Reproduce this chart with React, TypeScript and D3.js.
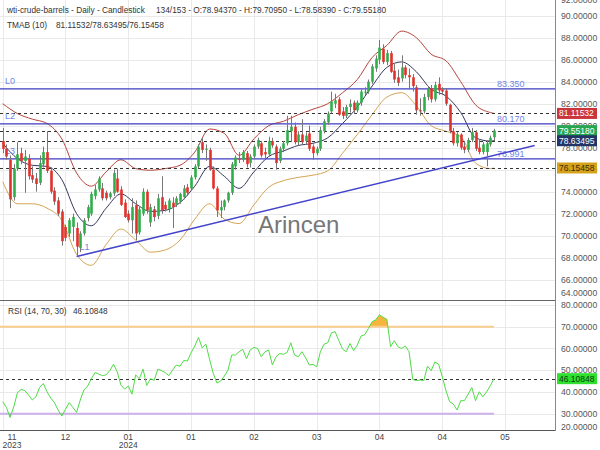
import React, { useEffect, useRef } from "react";
import * as d3 from "d3";

// daily candles, oldest first (134 shown of 153)
const opens = [
  78.6, 77.9, 76.9, 73.5, 76.1, 77.5, 76.8, 77.0, 75.5, 75.2,
  74.8, 76.5, 77.6, 75.9, 74.1, 73.2, 72.2, 70.8, 70.2, 70.8,
  70.7, 68.9, 70.2, 71.6, 72.0, 73.6, 74.2, 74.3, 73.9, 73.5,
  73.85, 75.2, 74.2, 73.0, 72.0, 71.4, 72.8, 70.3, 72.0, 74.0,
  71.2, 72.4, 71.8, 73.5, 72.8, 72.4, 73.0, 72.8, 73.1, 73.5,
  74.4, 74.3, 75.3, 76.3, 78.5, 77.8, 77.8, 76.0, 74.3, 72.3,
  72.6, 73.2, 73.9, 76.3, 77.0, 76.9, 77.5, 76.6, 77.2, 78.1,
  78.4, 77.6, 77.4, 78.6, 78.1, 76.8, 77.9, 78.4, 79.5, 79.9,
  78.5, 79.2, 78.6, 79.3, 78.1, 77.5, 77.9, 79.5, 80.3, 81.3,
  82.0, 82.4, 81.3, 80.9, 81.7, 82.1, 81.4, 82.1, 83.0, 83.1,
  84.0, 85.2, 86.0, 87.0, 85.8, 86.6, 85.0, 84.4, 84.3, 85.3,
  84.6, 84.4, 83.5, 81.4, 81.3, 82.6, 83.4, 82.4, 83.8, 83.3,
  83.2, 81.9, 79.5, 78.4, 79.2, 78.1, 77.8, 78.7, 79.4, 78.0,
  77.6, 77.6, 78.3, 78.9437,
];
const highs = [
  79.8, 78.3, 77.3, 76.5, 78.5, 78.0, 77.8, 77.4, 76.3, 75.7,
  77.3, 78.1, 79.5, 76.2, 74.4, 73.5, 72.4, 71.0, 71.6, 72.0,
  71.2, 70.4, 71.6, 72.8, 74.0, 74.6, 75.4, 74.8, 74.1, 74.0,
  76.0, 76.1, 74.5, 73.3, 72.3, 73.4, 73.2, 72.6, 74.3, 74.2,
  72.9, 72.7, 73.8, 75.4, 73.1, 73.4, 73.5, 73.6, 73.9, 74.6,
  74.7, 75.5, 76.5, 78.3, 78.9, 78.3, 78.0, 76.3, 74.5, 73.2,
  73.3, 74.0, 76.7, 77.3, 77.6, 77.8, 77.7, 77.4, 78.3, 78.9,
  78.6, 78.0, 79.0, 78.9, 78.3, 78.1, 78.6, 80.9, 80.9, 80.3,
  79.5, 80.6, 79.4, 80.0, 78.3, 78.1, 79.9, 80.6, 81.3, 83.1,
  82.9, 82.6, 81.7, 81.9, 82.4, 82.3, 82.3, 83.3, 83.5, 84.2,
  85.6, 86.4, 87.8, 87.4, 86.9, 86.8, 85.6, 85.1, 86.4, 85.5,
  85.2, 84.7, 83.7, 82.5, 82.9, 83.6, 83.7, 84.0, 84.4, 83.5,
  83.4, 82.0, 79.8, 79.4, 79.3, 78.6, 78.9, 79.8, 79.6, 78.7,
  78.5, 78.6, 79.1, 79.7095,
];
const lows = [
  77.5, 76.9, 72.5, 73.2, 75.9, 76.5, 73.9, 75.1, 74.8, 74.0,
  74.6, 76.2, 75.7, 73.8, 72.8, 71.8, 69.1, 69.5, 69.9, 69.5,
  68.1, 68.5, 70.0, 71.3, 71.8, 73.3, 74.0, 73.2, 73.2, 73.3,
  73.6, 73.9, 72.7, 71.6, 71.2, 70.2, 69.6, 70.1, 71.8, 72.0,
  70.8, 71.3, 71.5, 72.0, 72.2, 72.1, 70.7, 72.6, 72.9, 73.3,
  73.6, 74.1, 75.1, 76.1, 77.5, 76.8, 75.9, 74.2, 71.7, 71.6,
  72.3, 73.0, 73.7, 76.0, 76.6, 76.7, 76.2, 76.2, 77.0, 77.9,
  77.1, 77.0, 77.2, 78.0, 76.0, 76.6, 77.6, 78.2, 78.5, 78.3,
  78.2, 78.3, 78.3, 77.7, 76.9, 77.3, 77.7, 79.3, 80.1, 81.1,
  81.6, 80.9, 80.6, 80.7, 81.2, 81.1, 81.2, 81.8, 82.8, 82.9,
  83.8, 84.9, 85.6, 85.6, 85.5, 84.8, 83.9, 83.6, 84.0, 84.3,
  83.3, 83.1, 81.0, 80.9, 81.1, 82.3, 82.1, 82.2, 82.8, 82.8,
  81.8, 79.3, 78.2, 78.1, 77.8, 77.5, 77.6, 78.5, 77.7, 77.4,
  77.4, 76.3, 78.1, 78.5839,
];
const closes = [
  77.9, 77.2, 73.3, 76.1, 77.4, 76.8, 77.2, 75.4, 75.1, 74.7,
  76.6, 77.6, 75.9, 74.0, 73.1, 72.0, 69.5, 69.8, 71.4, 71.7,
  69.0, 70.2, 71.4, 72.6, 73.8, 74.2, 75.2, 73.4, 73.4, 73.85,
  75.7, 74.0, 72.8, 71.7, 71.4, 72.6, 70.2, 72.4, 74.0, 72.3,
  72.6, 71.7, 73.4, 72.3, 72.4, 73.2, 72.6, 73.4, 73.8, 74.3,
  73.9, 75.3, 76.3, 78.1, 77.8, 77.9, 76.0, 74.3, 72.3, 72.6,
  73.2, 73.9, 76.5, 77.1, 76.9, 77.6, 76.5, 77.2, 78.1, 78.7,
  77.3, 77.4, 78.6, 78.2, 76.6, 77.9, 78.4, 79.6, 79.9, 78.5,
  79.2, 78.5, 79.1, 77.9, 77.5, 77.9, 79.6, 80.4, 81.1, 82.2,
  82.3, 81.0, 80.9, 81.7, 82.0, 81.4, 82.1, 83.1, 83.1, 84.0,
  85.4, 86.1, 87.1, 85.8, 86.6, 84.9, 84.2, 83.9, 85.3, 84.6,
  84.4, 83.6, 81.4, 81.3, 82.6, 83.4, 82.4, 83.7, 83.2, 83.1,
  82.0, 79.5, 78.4, 79.2, 78.0, 77.8, 78.7, 79.4, 77.9, 77.6,
  78.3, 78.4, 78.9, 79.5518,
];

// TMAB (10) bands, read every 4th bar
const bandIdx = [
  0, 4, 8, 12, 16, 20, 24, 28, 32, 36, 40, 44, 48, 52, 56, 60, 64, 68,
  72, 76, 80, 84, 88, 92, 96, 100, 104, 108, 112, 116, 120, 124, 128, 132, 133,
];
const upperBand = [
  82.0, 81.1, 80.6, 80.2, 78.8, 75.7, 74.5, 75.8, 76.9, 76.1, 75.95, 76.1,
  76.4, 77.6, 79.7, 79.3, 77.3, 78.8, 80.0, 80.4, 81.0, 81.5, 82.0, 83.0,
  84.2, 86.2, 87.3, 88.6, 88.0, 86.5, 85.9, 84.0, 81.9, 81.2, 81.11532,
];
const middleBand = [
  78.4, 77.0, 76.4, 76.3, 75.1, 72.0, 70.9, 72.5, 73.8, 72.9, 72.2, 72.3,
  73.0, 74.5, 76.3, 75.4, 74.3, 75.8, 77.2, 77.7, 78.2, 78.4, 78.9, 80.2,
  81.7, 83.6, 85.3, 85.8, 84.9, 83.3, 82.7, 81.2, 78.9, 78.6, 78.63495,
];
const lowerBand = [
  74.9, 72.9, 72.9, 72.5, 71.4, 68.3, 67.3, 69.2, 70.6, 69.6, 68.5, 68.7,
  69.6, 71.5, 72.9, 71.5, 71.1, 72.8, 74.4, 75.0, 75.3, 75.5, 75.9, 77.5,
  79.2, 81.0, 82.6, 83.0, 81.8, 80.0, 79.5, 79.0, 76.6, 76.1, 76.15458,
];

// RSI (14)
const rsi = [
  35.5, 32.9, 28.3, 33.2, 39.7, 41.2, 40.6, 38.6, 36.3, 37.8,
  42.1, 43.9, 40.1, 37.2, 35.1, 31.7, 28.9, 32.0, 35.1, 32.9,
  30.6, 36.3, 40.9, 42.7, 46.1, 48.9, 48.2, 47.5, 47.9, 49.8,
  52.8, 49.3, 43.2, 41.3, 42.7, 39.0, 47.8, 46.1, 50.5, 43.0,
  46.1, 45.3, 50.5, 49.8, 48.9, 47.5, 50.1, 52.4, 51.8, 54.5,
  54.2, 58.0, 61.1, 65.1, 60.3, 62.0, 55.0, 48.5, 44.1, 45.0,
  47.3, 50.1, 57.0, 57.0, 58.5, 59.6, 55.3, 59.3, 60.5, 60.0,
  56.2, 58.5, 59.3, 52.4, 56.2, 57.7, 57.3, 58.2, 62.6, 57.0,
  56.2, 58.5, 55.7, 52.4, 52.7, 51.6, 58.5, 62.0, 62.6, 67.2,
  67.7, 63.6, 59.7, 58.5, 62.3, 59.0, 61.6, 65.7, 66.3, 69.2,
  72.3, 73.2, 75.5, 74.3, 73.4, 60.8, 63.6, 60.8, 60.0, 61.1,
  58.5, 45.8, 45.2, 45.5, 45.2, 51.9, 49.8, 53.8, 52.8, 47.0,
  40.6, 35.5, 34.4, 31.7, 36.0, 36.0, 39.0, 42.0, 36.0, 40.1,
  37.8, 40.0, 42.9, 46.10848,
];

// drawn levels
const levelNames = ["L0", "L2", "L3"];
const levelValues = [83.35, 80.17, 76.991];
const trendIdx = [20, 144];
const trendValues = [68.1, 78.2];

// last values of the bands / close
const markerValues = [81.11532, 79.5518, 78.63495, 76.15458];
const markerLabels = ["81.11532", "79.55180", "78.63495", "76.15458"];

const priceTicks = [64, 66, 68, 70, 72, 74, 76, 78, 80, 82, 84, 86, 88, 90, 92];
const rsiTicks = [20, 30, 40, 50, 60, 70, 80];
const monthLabels = ["11", "12", "01", "01", "02", "03", "04", "04", "05"];
const yearLabels = ["2023", "", "2024", "", "", "", "", "", ""];
const barsPerTick = 17;

const W = 600;
const H = 450;
const plotRight = 555;
const priceBottom = 300;
const rsiTop = 300;
const rsiBottom = 430;
const FONT = "'Liberation Sans', Arial, sans-serif";

const App = () => {
  const svgRef = useRef<SVGSVGElement>(null);

  useEffect(() => {
    const svg = d3.select(svgRef.current);
    svg.selectAll("*").remove();

    const x = d3.scaleLinear().domain([0, closes.length - 1]).range([2.7, 494]);
    const y = d3.scaleLinear().domain([64.15, 91.43]).range([priceBottom, 0]);
    const yR = d3.scaleLinear().domain([22.5, 82.3]).range([rsiBottom, rsiTop]);
    const crisp = (v: number) => Math.round(v) + 0.5;

    svg.append("rect").attr("width", W).attr("height", H).attr("fill", "#fff");

    const defs = svg.append("defs");
    defs.append("clipPath").attr("id", "clipPrice")
      .append("rect").attr("x", 0).attr("y", 0).attr("width", plotRight).attr("height", priceBottom);
    defs.append("clipPath").attr("id", "clipOver")
      .append("rect").attr("x", 0).attr("y", rsiTop).attr("width", plotRight).attr("height", yR(70) - rsiTop);
    defs.append("clipPath").attr("id", "clipUnder")
      .append("rect").attr("x", 0).attr("y", yR(30)).attr("width", plotRight).attr("height", rsiBottom - yR(30));

    // grid
    const grid = svg.append("g").attr("stroke", "#e9e9e9").attr("stroke-width", 1);
    priceTicks.forEach((t) => {
      const yy = y(t);
      if (yy > 0 && yy < priceBottom)
        grid.append("line").attr("x1", 0).attr("x2", plotRight).attr("y1", crisp(yy)).attr("y2", crisp(yy));
    });
    rsiTicks.forEach((t) => {
      const yy = yR(t);
      if (yy > rsiTop && yy < rsiBottom)
        grid.append("line").attr("x1", 0).attr("x2", plotRight).attr("y1", crisp(yy)).attr("y2", crisp(yy));
    });
    monthLabels.forEach((_, k) => {
      const xx = x(k * barsPerTick);
      if (xx < plotRight)
        grid.append("line").attr("x1", crisp(xx)).attr("x2", crisp(xx)).attr("y1", 0).attr("y2", rsiBottom);
    });

    // watermark
    svg.append("text").attr("x", 258).attr("y", 233).attr("font-family", FONT)
      .attr("font-size", 24).attr("fill", "#777").text("Arincen");

    const price = svg.append("g").attr("clip-path", "url(#clipPrice)");

    // bands
    const band = d3.line<number>()
      .x((_, k) => x(bandIdx[k]))
      .y((d) => y(d))
      .curve(d3.curveMonotoneX);
    price.append("path").attr("d", band(upperBand)).attr("fill", "none").attr("stroke", "#b5443c").attr("stroke-width", 1);
    price.append("path").attr("d", band(lowerBand)).attr("fill", "none").attr("stroke", "#d4a453").attr("stroke-width", 1);
    price.append("path").attr("d", band(middleBand)).attr("fill", "none").attr("stroke", "#33395e").attr("stroke-width", 1);

    // marker dashed lines
    markerValues.forEach((v) => {
      price.append("line").attr("x1", 0).attr("x2", plotRight)
        .attr("y1", crisp(y(v))).attr("y2", crisp(y(v)))
        .attr("stroke", "#333").attr("stroke-dasharray", "3,3").attr("stroke-width", 1);
    });

    // levels
    levelValues.forEach((v, k) => {
      const yy = y(v);
      price.append("line").attr("x1", 0).attr("x2", plotRight).attr("y1", yy).attr("y2", yy)
        .attr("stroke", "#3b3bc4").attr("stroke-width", 1.3);
      price.append("text").attr("x", 5).attr("y", yy - 5).attr("font-family", FONT)
        .attr("font-size", 9).attr("fill", "#6f86e6").text(levelNames[k]);
      price.append("text").attr("x", 497).attr("y", yy - 2).attr("font-family", FONT)
        .attr("font-size", 9).attr("fill", "#6f86e6").text(v.toFixed(3));
    });

    // trendline
    price.append("line")
      .attr("x1", x(trendIdx[0])).attr("y1", y(trendValues[0]))
      .attr("x2", x(trendIdx[1])).attr("y2", y(trendValues[1]))
      .attr("stroke", "#4343cc").attr("stroke-width", 1.5);
    price.append("text").attr("x", x(trendIdx[0]) + 3).attr("y", y(trendValues[0]) - 7)
      .attr("font-family", FONT).attr("font-size", 9).attr("fill", "#6f86e6").text("L1");

    // candles
    const bw = 2.6;
    closes.forEach((c, i) => {
      const o = opens[i];
      const cx = Math.round(x(i)) + 0.5;
      price.append("line").attr("x1", cx).attr("x2", cx)
        .attr("y1", y(highs[i])).attr("y2", y(lows[i]))
        .attr("stroke", "#777").attr("stroke-width", 1);
      const top = y(Math.max(o, c));
      const h = Math.max(1, Math.abs(y(o) - y(c)));
      price.append("rect").attr("x", cx - bw / 2).attr("y", top)
        .attr("width", bw).attr("height", h)
        .attr("fill", c >= o ? "#2fae4a" : "#e0312c");
    });

    // RSI panel
    const xEnd = x(rsi.length - 1);
    const rsiArea = d3.area<number>().x((_, i) => x(i)).y1((d) => yR(d));
    svg.append("path").attr("clip-path", "url(#clipOver)")
      .attr("d", rsiArea.y0(yR(70))(rsi)).attr("fill", "#f6b63e");
    svg.append("path").attr("clip-path", "url(#clipUnder)")
      .attr("d", rsiArea.y0(yR(30))(rsi)).attr("fill", "#6a5fc9");
    svg.append("line").attr("x1", 0).attr("x2", xEnd).attr("y1", yR(70)).attr("y2", yR(70))
      .attr("stroke", "#f9cd8c").attr("stroke-width", 2);
    svg.append("line").attr("x1", 0).attr("x2", xEnd).attr("y1", yR(30)).attr("y2", yR(30))
      .attr("stroke", "#cdb0ea").attr("stroke-width", 2);
    const lastRsi = rsi[rsi.length - 1];
    svg.append("line").attr("x1", 0).attr("x2", plotRight)
      .attr("y1", crisp(yR(lastRsi))).attr("y2", crisp(yR(lastRsi)))
      .attr("stroke", "#333").attr("stroke-dasharray", "3,3");
    svg.append("path")
      .attr("d", d3.line<number>().x((_, i) => x(i)).y((d) => yR(d))(rsi))
      .attr("fill", "none").attr("stroke", "#4fdc45").attr("stroke-width", 1);

    // frame
    svg.append("line").attr("x1", 0).attr("x2", plotRight).attr("y1", priceBottom + 0.5).attr("y2", priceBottom + 0.5)
      .attr("stroke", "#666");
    svg.append("line").attr("x1", 0).attr("x2", plotRight).attr("y1", rsiBottom + 0.5).attr("y2", rsiBottom + 0.5)
      .attr("stroke", "#555");
    svg.append("line").attr("x1", plotRight + 0.5).attr("x2", plotRight + 0.5).attr("y1", 0).attr("y2", rsiBottom + 1)
      .attr("stroke", "#888");

    // right axis labels
    const axisText = svg.append("g").attr("font-family", FONT).attr("font-size", 8.7).attr("fill", "#555");
    priceTicks.forEach((t) => {
      const yy = Math.min(293, Math.max(-0.5, y(t)));
      axisText.append("text").attr("x", 561).attr("y", yy).attr("dy", "0.35em").text(t.toFixed(5));
    });
    rsiTicks.forEach((t) => {
      const yy = Math.min(427, Math.max(rsiTop + 4, yR(t)));
      axisText.append("text").attr("x", 561).attr("y", yy).attr("dy", "0.35em").text(t.toFixed(5));
    });

    // value badges
    const badgeFill = ["#c9353a", "#27a551", "#233566", "#d4a21a"];
    const badgeText = ["#fff", "#fff", "#fff", "#3a2a00"];
    const badge = (yy: number, label: string, fill: string, tc: string) => {
      svg.append("rect").attr("x", 557).attr("y", yy - 5.5).attr("width", 40).attr("height", 11).attr("fill", fill);
      svg.append("text").attr("x", 559).attr("y", yy).attr("dy", "0.35em")
        .attr("font-family", FONT).attr("font-size", 8.5).attr("fill", tc).text(label);
    };
    markerValues.forEach((v, k) => badge(y(v), markerLabels[k], badgeFill[k], badgeText[k]));
    badge(yR(lastRsi), lastRsi.toFixed(5), "#2fe02f", "#0d3b0d");

    // x axis labels
    const xl = svg.append("g").attr("font-family", FONT).attr("font-size", 8.5).attr("fill", "#444")
      .attr("text-anchor", "middle");
    monthLabels.forEach((m, k) => {
      const xx = Math.max(12, x(k * barsPerTick));
      xl.append("text").attr("x", xx).attr("y", 440).text(m);
      if (yearLabels[k]) xl.append("text").attr("x", xx).attr("y", 448).text(yearLabels[k]);
    });

    // headers
    const hd = svg.append("g").attr("font-family", FONT).attr("font-size", 8.3).attr("fill", "#333");
    hd.append("text").attr("x", 7).attr("y", 13).text("wti-crude-barrels - Daily - Candlestick");
    hd.append("text").attr("x", 156).attr("y", 13)
      .text("134/153 - O:78.94370 - H:79.70950 - L:78.58390 - C:79.55180");
    hd.append("text").attr("x", 7).attr("y", 28).text("TMAB (10)");
    hd.append("text").attr("x", 56).attr("y", 28).text("81.11532/78.63495/76.15458");
    hd.append("text").attr("x", 8).attr("y", 314).text("RSI (14, 70, 30)");
    hd.append("text").attr("x", 73).attr("y", 314).text(lastRsi.toFixed(5));
  }, []);

  return (
    <svg
      ref={svgRef}
      width={W}
      height={H}
      style={{ position: "absolute", left: 0, top: 0, display: "block" }}
    />
  );
};

export default App;
